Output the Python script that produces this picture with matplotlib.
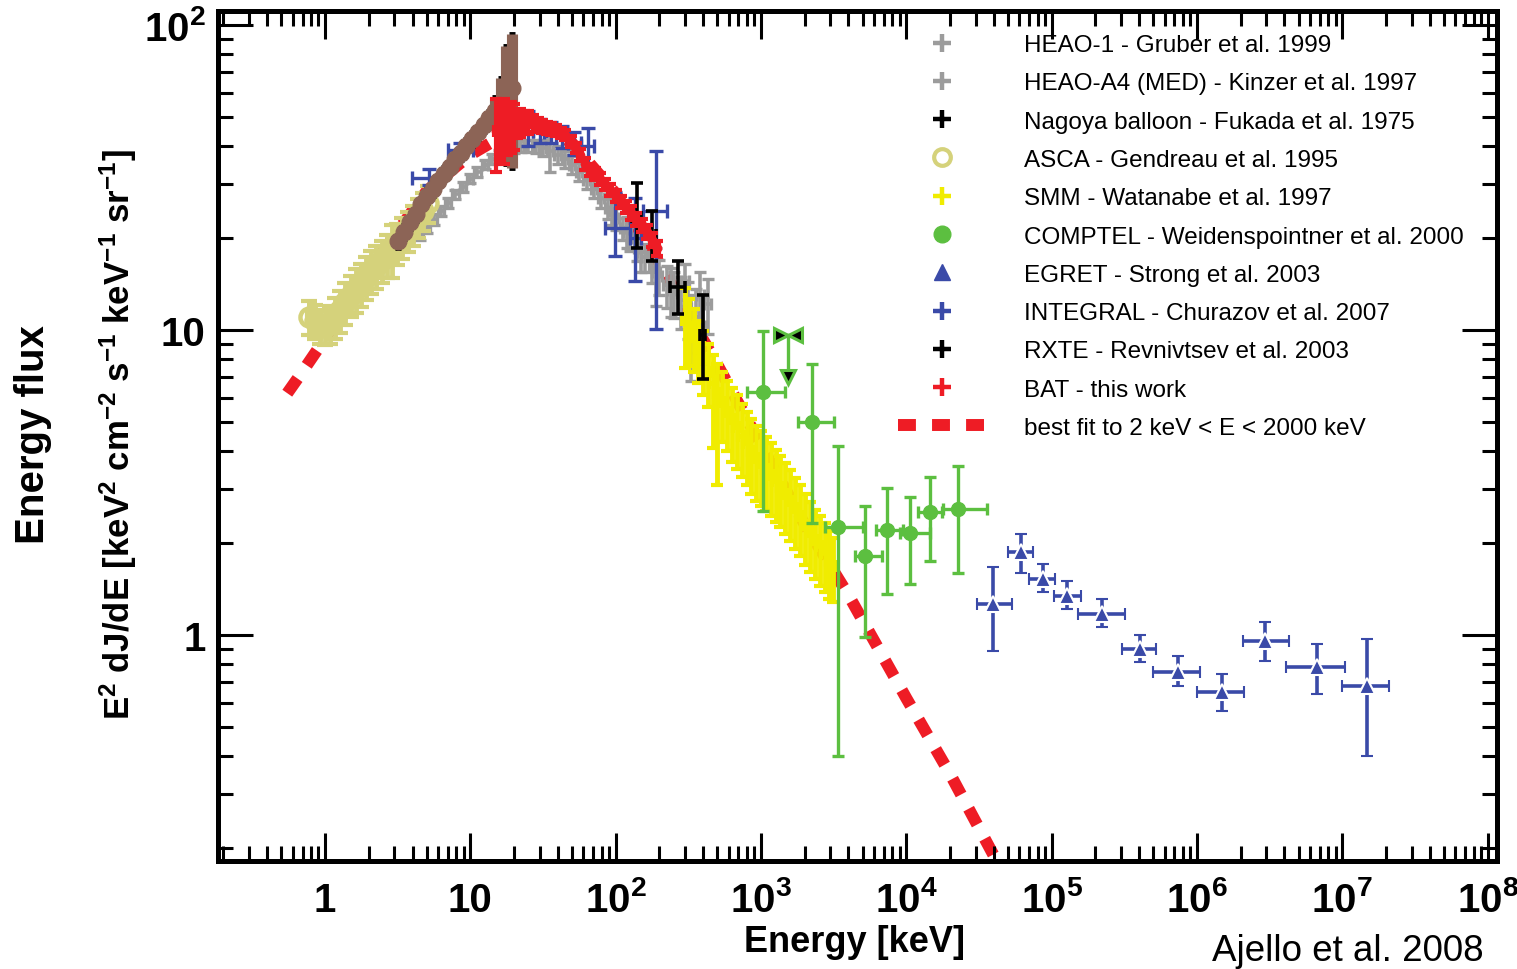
import numpy as np
import matplotlib
matplotlib.use("Agg")
import matplotlib.pyplot as plt
from matplotlib.lines import Line2D
from matplotlib.ticker import LogLocator, NullFormatter

plt.rcParams['font.family'] = ['Liberation Sans', 'DejaVu Sans']
plt.rcParams['mathtext.fontset'] = 'custom'
plt.rcParams['mathtext.rm'] = 'Liberation Sans'
plt.rcParams['mathtext.it'] = 'Liberation Sans:italic'
plt.rcParams['mathtext.bf'] = 'Liberation Sans:bold'

# ---------------- data ----------------
# best fit (smoothly broken power law)
fit_E = [0.55, 0.7, 0.9, 2, 5, 10, 20, 30, 50, 100, 200, 500, 1000, 2000, 4000, 10000, 20000, 50000]
fit_y = [6.2, 7.3, 8.7, 15.5, 28.5, 37.5, 45.5, 46.5, 41, 28, 16.5, 7.7, 4.2, 2.3, 1.35, 0.62, 0.35, 0.155]

# ASCA - Gendreau et al. 1995
asca_E = [0.78, 0.85, 0.92, 1.0, 1.08, 1.17, 1.27, 1.38, 1.5, 1.63, 1.77, 1.92, 2.08, 2.26,
          2.45, 2.66, 2.89, 3.14, 3.4, 3.7, 4.0, 4.35, 4.7, 5.1]
asca_y = [11.0, 10.7, 10.3, 10.2, 10.5, 11.0, 11.6, 12.3, 13.0, 13.6, 14.2, 14.9, 15.6, 16.2,
          16.9, 17.6, 18.4, 19.3, 20.2, 21.2, 22.2, 23.4, 24.6, 26.0]
asca_err = [1.4, 1.4, 1.3, 1.3, 1.5, 1.7, 1.8, 1.9, 2.0, 2.2, 2.3, 2.4, 2.5, 2.6,
            2.7, 2.8, 3.6, 3.0, 3.1, 3.2, 3.3, 3.4, 3.5, 3.6]

# HEAO-1 - Gruber et al. 1999
heao1_E = [4.5, 5.0, 5.6, 6.3, 7.0, 7.9, 8.9, 10.0, 11.2, 12.6, 14.1, 15.8, 17.8, 20, 22.4, 25.1,
           28.2, 31.6, 35.5, 39.8, 44.7, 50.1, 56.2, 63.1, 70.8, 79.4, 89.1, 100, 112, 126, 141,
           158, 178, 200, 224, 251, 282, 316, 355, 398]
heao1_y = [20.5, 21.5, 23.0, 24.5, 26.0, 27.8, 29.5, 31.3, 33.0, 34.8, 36.3, 37.5, 38.6, 39.5,
           40.0, 40.2, 40.0, 39.5, 38.5, 37.5, 36.3, 34.8, 33.0, 31.0, 29.0, 27.0, 25.0, 23.2,
           21.5, 20.0, 18.6, 17.3, 16.1, 15.0, 14.0, 13.2, 12.5, 11.8, 11.0, 10.3]
heao1_err = [0.8, 0.8, 0.9, 0.9, 1.0, 1.0, 1.1, 1.1, 1.2, 1.2, 1.3, 1.3, 1.4, 1.5, 1.6, 1.8,
             2.0, 2.4, 5.5, 2.5, 2.4, 2.3, 2.2, 2.1, 2.0, 2.0, 1.9, 1.9, 1.8, 1.8, 1.8, 1.8,
             1.9, 2.0, 2.2, 2.3, 2.4, 2.5, 2.6, 2.6]

# HEAO-A4 (MED) - Kinzer et al. 1997
kinzer_E = [95, 120, 150, 190, 240, 300, 330, 380, 430]
kinzer_y = [24.5, 21.0, 18.0, 15.5, 13.5, 14.5, 10.0, 13.0, 12.2]
kinzer_lo = [2.5, 2.5, 2.5, 3.5, 2.5, 2.5, 3.2, 2.5, 2.5]
kinzer_hi = [2.5, 2.5, 2.5, 3.0, 2.5, 2.0, 3.0, 2.5, 2.5]

# Nagoya balloon - Fukada et al. 1975
nagoya_E = [140, 177, 268, 397]
nagoya_y = [23.5, 20.5, 13.8, 9.6]
nagoya_ylo = [18.5, 16.8, 11.3, 6.9]
nagoya_yhi = [30.3, 24.5, 16.8, 13.0]
nagoya_Elo = [130, 165, 237, 380]
nagoya_Ehi = [150, 190, 300, 415]

# RXTE - Revnivtsev et al. 2003
rxte_E = [3.2, 3.5, 3.85, 4.2, 4.6, 5.0, 5.5, 6.0, 6.6, 7.2, 7.9, 8.6, 9.4, 10.3, 11.3, 12.4,
          13.5, 14.8, 16.2, 17.7, 19.3]
rxte_y = [19.5, 21.0, 22.5, 24.0, 25.8, 27.5, 29.0, 30.7, 32.5, 34.3, 36.2, 38.0, 40.2, 42.3,
          44.5, 47.0, 49.5, 52.0, 55.0, 60.0, 62.0]
rxte_lo = [1.0, 1.1, 1.1, 1.2, 1.3, 1.4, 1.5, 1.5, 1.6, 1.7, 1.8, 1.9, 2.0, 2.1, 2.2, 2.4,
           2.5, 6.0, 12.0, 25.0, 28.0]
rxte_hi = [1.0, 1.1, 1.1, 1.2, 1.3, 1.4, 1.5, 1.5, 1.6, 1.7, 1.8, 1.9, 2.0, 2.1, 2.2, 2.4,
           2.5, 6.0, 12.0, 25.0, 31.0]

# INTEGRAL - Churazov et al. 2007
integral_E = [5.2, 8.5, 25, 30, 36, 43, 52, 64, 99, 136, 189]
integral_y = [31.5, 38.9, 45.0, 45.0, 44.5, 43.0, 41.0, 40.0, 21.6, 20.0, 24.5]
integral_ylo = [29.8, 36.6, 40.0, 41.0, 41.0, 39.5, 37.5, 34.0, 17.5, 14.5, 10.1]
integral_yhi = [33.8, 41.0, 52.0, 49.0, 48.0, 46.5, 44.5, 46.0, 28.3, 27.0, 38.6]
integral_Elo = [3.97, 7.0, 23, 27, 32, 39, 47, 58, 84, 125, 155]
integral_Ehi = [6.2, 10.4, 27, 33, 40, 48, 58, 71, 125, 150, 226]

# BAT - this work
bat_E = [15, 16, 17, 18, 19, 20, 21, 22, 23.5, 25, 27, 29, 31, 33.5, 36, 39, 42, 45, 49, 53,
         57, 62, 67, 72, 78, 85, 92, 100, 109, 118, 128, 139, 151, 164, 178, 193]
bat_y = [45, 46, 46, 46.5, 47, 47, 47.5, 48, 48, 48, 47.5, 47, 46.5, 46, 45.5, 45, 44.2, 43.5,
         41.5, 39.5, 37.5, 35, 33.5, 32.5, 31.3, 30, 28.8, 27.5, 26.3, 25.3, 24.2, 23, 22, 21,
         19.7, 18.5]
bat_err = [12, 10, 11, 9, 9, 8, 5, 5, 4, 4, 3, 2.5, 2.2, 2, 2, 1.8, 1.8, 1.7, 1.7, 1.6,
           1.6, 1.5, 1.5, 1.4, 1.4, 1.3, 1.3, 1.3, 1.2, 1.2, 1.2, 1.1, 1.1, 1.1, 1.0, 1.0]

# SMM - Watanabe et al. 1997
smm_E = [300, 320, 345, 370, 400, 430, 465, 500, 540, 585, 630, 680, 735, 795, 860, 930, 1000,
         1080, 1170, 1260, 1360, 1470, 1590, 1720, 1860, 2010, 2170, 2350, 2540, 2740, 2960, 3150]
smm_y = [10.8, 10.2, 9.5, 8.7, 8.0, 7.3, 6.7, 6.2, 5.8, 5.4, 5.1, 4.8, 4.5, 4.25, 4.0, 3.8, 3.65,
         3.5, 3.35, 3.2, 3.05, 2.9, 2.75, 2.6, 2.45, 2.3, 2.17, 2.05, 1.95, 1.85, 1.75, 1.68]
smm_lo = [3.3, 2.6, 2.2, 2.0, 1.9, 1.7, 2.6, 3.1, 1.5, 1.4, 1.4, 1.3, 1.2, 1.15, 1.1, 1.05, 1.0,
          0.95, 0.9, 0.85, 0.8, 0.75, 0.72, 0.68, 0.64, 0.6, 0.56, 0.52, 0.5, 0.47, 0.44, 0.4]
smm_hi = [2.9, 2.4, 2.2, 2.0, 1.9, 1.7, 1.6, 1.5, 1.5, 1.4, 1.35, 1.3, 1.2, 1.15, 1.1, 1.05, 1.0,
          0.95, 0.9, 0.85, 0.8, 0.75, 0.72, 0.68, 0.64, 0.6, 0.56, 0.52, 0.5, 0.47, 0.44, 0.4]
smm_xerr = [15, 16, 17, 19, 20, 22, 24, 26, 28, 30, 32, 35, 38, 41, 44, 48, 52,
            56, 60, 65, 70, 76, 82, 89, 96, 104, 112, 121, 131, 142, 154, 165]

# COMPTEL - Weidenspointner et al. 2000
comptel_E = [1033, 2249, 3396, 5200, 7380, 10600, 14600, 22700]
comptel_y = [6.24, 5.0, 2.26, 1.82, 2.2, 2.16, 2.53, 2.59]
comptel_ylo = [2.55, 2.33, 0.40, 0.985, 1.36, 1.47, 1.75, 1.59]
comptel_yhi = [9.9, 7.75, 4.17, 2.65, 3.02, 2.84, 3.3, 3.59]
comptel_Elo = [800, 1800, 2770, 4440, 6200, 9000, 12000, 17800]
comptel_Ehi = [1460, 3200, 5000, 6800, 9500, 14500, 17500, 36000]
# COMPTEL upper limit
ul_E = [1537]
ul_Elo = [1375]
ul_Ehi = [1718]
ul_y = [9.6]
ul_arrow_y = [7.0]

# EGRET - Strong et al. 2003
egret_E = [39600, 61700, 87400, 128000, 223000, 406000, 743000, 1.49e6, 2.95e6, 6.7e6, 1.48e7]
egret_y = [1.264, 1.873, 1.527, 1.343, 1.172, 0.90, 0.756, 0.65, 0.956, 0.785, 0.68]
egret_ylo = [0.886, 1.59, 1.385, 1.217, 1.062, 0.815, 0.68, 0.563, 0.82, 0.64, 0.40]
egret_yhi = [1.67, 2.15, 1.71, 1.505, 1.31, 1.0, 0.853, 0.745, 1.10, 0.934, 0.97]
egret_Elo = [30600, 50000, 70000, 103000, 152000, 305000, 500000, 1.0e6, 2.07e6, 4.1e6, 1.0e7]
egret_Ehi = [53000, 74500, 105000, 158000, 318000, 520000, 1.05e6, 2.1e6, 4.3e6, 1.05e7, 2.1e7]

x_ticks = [1, 10, 1e2, 1e3, 1e4, 1e5, 1e6, 1e7, 1e8]
x_labels = ['1', '10', r'$\mathbf{10^{2}}$', r'$\mathbf{10^{3}}$', r'$\mathbf{10^{4}}$',
            r'$\mathbf{10^{5}}$', r'$\mathbf{10^{6}}$', r'$\mathbf{10^{7}}$', r'$\mathbf{10^{8}}$']
y_ticks = [1, 10, 100]
y_labels = ['1', '10', r'$\mathbf{10^{2}}$']

legend_labels = ['HEAO-1 - Gruber et al. 1999', 'HEAO-A4 (MED) - Kinzer et al. 1997',
                 'Nagoya balloon - Fukada et al. 1975', 'ASCA - Gendreau et al. 1995',
                 'SMM - Watanabe et al. 1997', 'COMPTEL - Weidenspointner et al. 2000',
                 'EGRET - Strong et al. 2003', 'INTEGRAL - Churazov et al. 2007',
                 'RXTE - Revnivtsev et al. 2003', 'BAT - this work',
                 'best fit to 2 keV < E < 2000 keV']

# ---------------- colours ----------------
C_GRAY = '#9c9c9c'
C_BLACK = '#000000'
C_KHAKI = '#d5d27b'
C_YELLOW = '#f0ec00'
C_GREEN = '#5cbf40'
C_BLUE = '#3a4aa8'
C_RED = '#ee1c25'
C_BROWN = '#8c6456'

# ---------------- figure ----------------
W, H = 1517, 970
fig = plt.figure(figsize=(W / 100, H / 100), dpi=100)
fig.patch.set_facecolor('white')
ax = fig.add_axes([218 / W, 1 - 862 / H, (1497 - 218) / W, (862 - 12) / H])
ax.set_xscale('log')
ax.set_yscale('log')


def asym(v, lo, hi):
    v = np.asarray(v, float)
    return np.vstack([v - np.asarray(lo, float), np.asarray(hi, float) - v])


# best fit (bottom layer)
ax.plot(fit_E, fit_y, color=C_RED, lw=8.6, linestyle=(0, (1.5, 1.35)),
        dash_capstyle='butt', zorder=1)

# HEAO-1 (gray)
ax.errorbar(heao1_E, heao1_y, yerr=heao1_err, xerr=np.array(heao1_E) * 0.05,
            fmt='none', ecolor=C_GRAY, elinewidth=2.6, capsize=4, capthick=2.4, zorder=2)
# HEAO-A4 MED (gray)
ax.errorbar(kinzer_E, kinzer_y, yerr=[kinzer_lo, kinzer_hi], xerr=np.array(kinzer_E) * 0.06,
            fmt='none', ecolor=C_GRAY, elinewidth=2.6, capsize=4, capthick=2.4, zorder=2)

# ASCA
ax.errorbar(asca_E, asca_y, yerr=asca_err, xerr=np.array(asca_E) * 0.04, fmt='none',
            ecolor=C_KHAKI, elinewidth=3.5, capsize=5.5, capthick=3, zorder=3)
ax.plot(asca_E, asca_y, ls='none', marker='o', ms=13, mfc='none', mec=C_KHAKI, mew=3.2, zorder=3)

# INTEGRAL
ax.errorbar(integral_E, integral_y, yerr=asym(integral_y, integral_ylo, integral_yhi),
            xerr=asym(integral_E, integral_Elo, integral_Ehi), fmt='none', ecolor=C_BLUE,
            elinewidth=2.4, capsize=5, capthick=2.4, zorder=3.5)

# RXTE (brown band with black caps)
ax.errorbar(rxte_E, rxte_y, yerr=[rxte_lo, rxte_hi], xerr=np.array(rxte_E) * 0.08,
            fmt='none', ecolor=C_BLACK, elinewidth=1.5, capsize=2, capthick=3.5, zorder=4)
ax.errorbar(rxte_E, rxte_y, yerr=[rxte_lo, rxte_hi], fmt='o', ms=12, color=C_BROWN,
            ecolor=C_BROWN, elinewidth=8, capsize=0, zorder=4.1)

# SMM
ax.errorbar(smm_E, smm_y, yerr=[smm_lo, smm_hi], xerr=smm_xerr, fmt='none', ecolor=C_YELLOW,
            elinewidth=3.5, capsize=4.5, capthick=3, zorder=4)

# Nagoya balloon
ax.errorbar(nagoya_E, nagoya_y, yerr=asym(nagoya_y, nagoya_ylo, nagoya_yhi),
            xerr=asym(nagoya_E, nagoya_Elo, nagoya_Ehi), fmt='none', ecolor=C_BLACK,
            elinewidth=2.6, capsize=4.5, capthick=2.6, zorder=5)

# BAT
ax.errorbar(bat_E, bat_y, yerr=bat_err, xerr=np.array(bat_E) * 0.03, fmt='o', ms=6,
            color=C_RED, ecolor=C_RED, elinewidth=3, capsize=4, capthick=3, zorder=6)

# COMPTEL
ax.errorbar(comptel_E, comptel_y, yerr=asym(comptel_y, comptel_ylo, comptel_yhi),
            xerr=asym(comptel_E, comptel_Elo, comptel_Ehi), fmt='o', ms=10, color=C_GREEN,
            ecolor=C_GREEN, elinewidth=2.4, capsize=4.5, capthick=2.4, zorder=7)
# COMPTEL upper limit
ax.plot([ul_E[0], ul_E[0]], [ul_y[0], ul_arrow_y[0]], color=C_GREEN, lw=2.4, zorder=7)
ax.plot(ul_Elo, ul_y, ls='none', marker='>', ms=10, mfc='black', mec=C_GREEN, mew=2.2, zorder=7.1)
ax.plot(ul_Ehi, ul_y, ls='none', marker='<', ms=10, mfc='black', mec=C_GREEN, mew=2.2, zorder=7.1)
ax.plot(ul_E, ul_arrow_y, ls='none', marker='v', ms=10, mfc='black', mec=C_GREEN, mew=2.2, zorder=7.1)

# EGRET
ax.errorbar(egret_E, egret_y, yerr=asym(egret_y, egret_ylo, egret_yhi),
            xerr=asym(egret_E, egret_Elo, egret_Ehi), fmt='^', ms=11, color=C_BLUE, mec='white',
            mew=1.5, ecolor=C_BLUE, elinewidth=2.6, capsize=4.5, capthick=2.6, zorder=7)

# ---------------- axes styling ----------------
ax.set_xlim(0.1835, 1.16e8)
ax.set_ylim(0.1815, 111)
ax.set_xticks(x_ticks)
ax.set_xticklabels(x_labels, fontsize=29, fontweight='bold')
ax.set_yticks(y_ticks)
ax.set_yticklabels(y_labels, fontsize=29, fontweight='bold')
for lab in ax.get_xticklabels():
    lab.set_va('baseline')
ax.xaxis.set_minor_locator(LogLocator(base=10, subs=np.arange(2, 10), numticks=100))
ax.yaxis.set_minor_locator(LogLocator(base=10, subs=np.arange(2, 10), numticks=100))
ax.xaxis.set_minor_formatter(NullFormatter())
ax.yaxis.set_minor_formatter(NullFormatter())
ax.tick_params(which='both', direction='in', top=True, right=True, width=2.2, color='black')
ax.tick_params(axis='x', which='major', length=20, pad=36)
ax.tick_params(axis='y', which='major', length=25, pad=9)
ax.tick_params(axis='both', which='minor', length=11)
for sp in ax.spines.values():
    sp.set_linewidth(3.6)

# ---------------- legend ----------------
plus = dict(ls='none', marker='+', ms=13, mew=3.2)
handles = [
    Line2D([], [], color=C_GRAY, **plus),
    Line2D([], [], color=C_GRAY, **plus),
    Line2D([], [], color=C_BLACK, **plus),
    Line2D([], [], ls='none', marker='o', ms=12, mfc='none', mec=C_KHAKI, mew=3),
    Line2D([], [], color=C_YELLOW, **plus),
    Line2D([], [], ls='none', marker='o', ms=12, color=C_GREEN),
    Line2D([], [], ls='none', marker='^', ms=12, color=C_BLUE),
    Line2D([], [], color=C_BLUE, **plus),
    Line2D([], [], color=C_BLACK, **plus),
    Line2D([], [], color=C_RED, **plus),
    Line2D([], [], color=C_RED, lw=8.6, linestyle=(0, (1.5, 1.35))),
]
leg = ax.legend(handles, legend_labels, loc='upper left', bbox_to_anchor=(898 / W, 1 - 35 / H),
                bbox_transform=fig.transFigure, frameon=False, fontsize=17.5,
                handlelength=3.6, handletextpad=1.6, labelspacing=0.67, borderpad=0,
                borderaxespad=0)

# ---------------- labels ----------------
fig.text(33 / W, 1 - 435 / H, 'Energy flux', rotation=90, ha='center', va='center',
         fontsize=29, fontweight='bold')
fig.text(118 / W, 1 - 435 / H,
         r'$\mathbf{E^{2}\ dJ/dE\ [keV^{2}\ cm^{-2}\ s^{-1}\ keV^{-1}\ sr^{-1}]}$',
         rotation=90, ha='center', va='center', fontsize=25)
fig.text(855 / W, 1 - 943 / H, 'Energy [keV]', ha='center', va='center', fontsize=26,
         fontweight='bold')
fig.text(1484 / W, 1 - 952 / H, 'Ajello et al. 2008', ha='right', va='center', fontsize=26.5)

fig.savefig('out.png', dpi=100)
